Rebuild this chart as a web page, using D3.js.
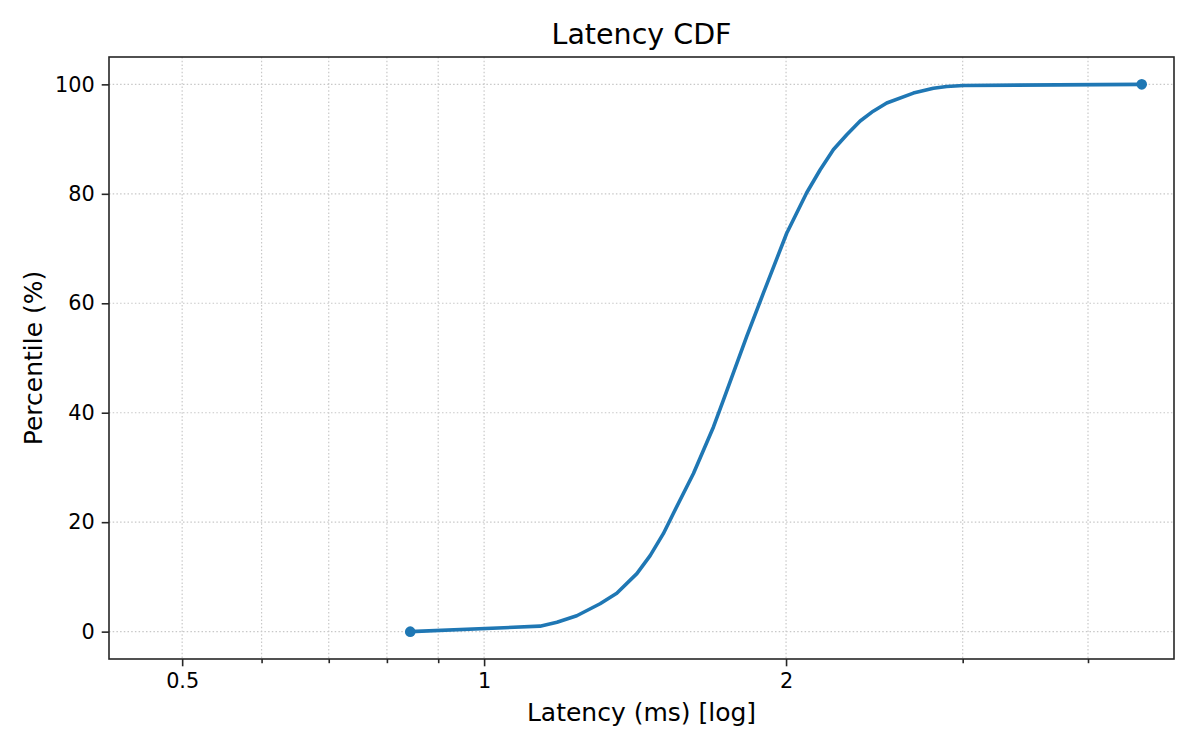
<!DOCTYPE html>
<html>
    <head>
        <title>Latency CDF</title>
        <style>
            body, html {
              margin: 0;
              padding: 0;
              background: #fff;
            }
            text {
              font-family: "DejaVu Sans", sans-serif;
              fill: #000;
            }
        </style>
    </head>
    <body>

        <svg id="svg" width="1200" height="750"></svg>

        <script src="https://d3js.org/d3.v7.min.js"></script>
        <script>
            // values
            const latencyMs = [0.844, 1.137, 1.182, 1.237, 1.305, 1.356, 1.420, 1.464, 1.509, 1.544, 1.617,
                               1.693, 1.732, 1.827, 1.898, 2.003, 2.097, 2.163, 2.230, 2.299, 2.371,
                               2.443, 2.520, 2.679, 2.805, 2.892, 3.005, 4.525]
            const percentile = [0, 1, 1.7, 2.9, 5.1, 7, 10.6, 13.9, 17.9, 21.6, 28.9,
                                37.4, 42.3, 53.9, 61.8, 72.8, 80.2, 84.4, 88.1, 90.8, 93.3,
                                95.1, 96.6, 98.4, 99.3, 99.6, 99.8, 100]
            const majorTicks = [0.5, 1, 2]
            const majorLabels = ['0.5', '1', '2']
            const minorTicks = [0.6, 0.7, 0.8, 0.9, 3, 4]
            const yTicks = [0, 20, 40, 60, 80, 100]
            const xDomain = [0.4227, 4.873]
            const yDomain = [-5, 105]

            const data = latencyMs.map((v, i) => ({ x: v, y: percentile[i] }))

            const margin = { top: 57, right: 26, bottom: 91, left: 109 }
            const width = 1200 - (margin.left + margin.right)
            const height = 750 - (margin.top + margin.bottom)

            const xscale = d3.scaleLog().domain(xDomain).range([0, width])
            const yscale = d3.scaleLinear().domain(yDomain).range([height, 0])

            const svg = d3.select('#svg')
            const g = svg.append('g')
                .attr('transform', `translate(${margin.left}, ${margin.top})`)

            // grid (dotted, major + minor on x)
            const gridStyle = sel => sel.selectAll('line')
                .attr('stroke', '#c8c8c8')
                .attr('stroke-width', 1.2)
                .attr('stroke-dasharray', '1.5,2.2')
            g.append('g')
                .selectAll('line')
                .data(majorTicks.concat(minorTicks))
                .enter()
                .append('line')
                .attr('x1', d => xscale(d)).attr('x2', d => xscale(d))
                .attr('y1', 0).attr('y2', height)
                .call(s => s.attr('stroke', '#c8c8c8').attr('stroke-width', 1.2).attr('stroke-dasharray', '1.5,2.2'))
            g.append('g')
                .selectAll('line')
                .data(yTicks)
                .enter()
                .append('line')
                .attr('x1', 0).attr('x2', width)
                .attr('y1', d => yscale(d)).attr('y2', d => yscale(d))
                .call(s => s.attr('stroke', '#c8c8c8').attr('stroke-width', 1.2).attr('stroke-dasharray', '1.5,2.2'))

            // the line
            const line = d3.line()
                .x(d => xscale(d.x))
                .y(d => yscale(d.y))
            g.append('path')
                .datum(data)
                .attr('fill', 'none')
                .attr('stroke', '#1f77b4')
                .attr('stroke-width', 3.6)
                .attr('stroke-linejoin', 'round')
                .attr('stroke-linecap', 'round')
                .attr('d', line)

            // end markers
            g.selectAll('circle')
                .data([data[0], data[data.length - 1]])
                .enter()
                .append('circle')
                .attr('cx', d => xscale(d.x))
                .attr('cy', d => yscale(d.y))
                .attr('r', 5.3)
                .attr('fill', '#1f77b4')

            // axes
            const bottomAxis = d3.axisBottom(xscale)
                .tickValues(majorTicks)
                .tickFormat((d, i) => majorLabels[i])
                .tickSize(7.3)
                .tickPadding(7)
            const bottomMinor = d3.axisBottom(xscale)
                .tickValues(minorTicks)
                .tickFormat('')
                .tickSize(4.2)
            const leftAxis = d3.axisLeft(yscale)
                .tickValues(yTicks)
                .tickSize(7.3)
                .tickPadding(7)

            const styleAxis = sel => {
                sel.select('.domain').remove()
                sel.selectAll('line').attr('stroke', '#262626').attr('stroke-width', 1.6)
                sel.selectAll('text')
                    .attr('font-family', '"DejaVu Sans", sans-serif')
                    .attr('font-size', 20.8)
                    .attr('fill', '#000')
            }

            g.append('g')
                .attr('transform', `translate(0, ${height})`)
                .call(bottomAxis)
                .call(styleAxis)
            g.append('g')
                .attr('transform', `translate(0, ${height})`)
                .call(bottomMinor)
                .call(styleAxis)
            g.append('g')
                .call(leftAxis)
                .call(styleAxis)

            // frame
            g.append('rect')
                .attr('width', width)
                .attr('height', height)
                .attr('fill', 'none')
                .attr('stroke', '#262626')
                .attr('stroke-width', 1.6)

            // labels
            svg.append('text')
                .attr('x', margin.left + width / 2)
                .attr('y', 44)
                .attr('text-anchor', 'middle')
                .attr('font-size', 28.5)
                .text('Latency CDF')
            svg.append('text')
                .attr('x', margin.left + width / 2)
                .attr('y', 721)
                .attr('text-anchor', 'middle')
                .attr('font-size', 25)
                .text('Latency (ms) [log]')
            svg.append('text')
                .attr('transform', `translate(42, ${margin.top + height / 2}) rotate(-90)`)
                .attr('text-anchor', 'middle')
                .attr('font-size', 25)
                .text('Percentile (%)')
        </script>
    </body>
</html>
